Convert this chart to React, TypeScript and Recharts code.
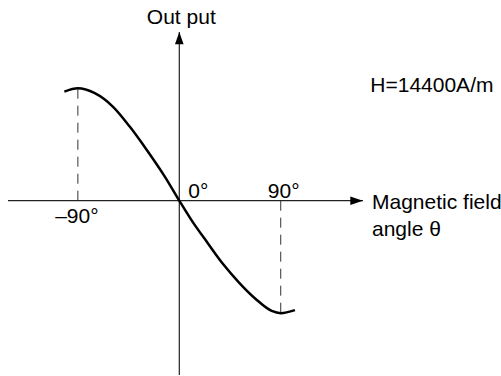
import { LineChart, Line, XAxis, YAxis, ReferenceLine, ReferenceDot } from 'recharts';

// magnetic field angle (deg) and normalised output
const angles = [-102, -90, -75, -59, -44, -29, -13, 0, 10.5, 25, 39, 53, 68, 82, 90, 102.6];
const output = [0.97, 1.0, 0.956, 0.837, 0.659, 0.453, 0.216, 0, -0.168, -0.374, -0.566, -0.728, -0.876, -0.98, -1.0, -0.973];

const markAngles = [-90, 90];
const markLabels = ['–90°', '90°'];
const axisLabel = ['Magnetic field', 'angle θ'];
const outLabel = 'Out put';
const fieldNote = 'H=14400A/m';

const data = angles.map((a, i) => ({ angle: a, output: output[i] }));
const peakAt = (a: number) => output[angles.indexOf(a)];

const font = { fontFamily: '"Liberation Sans", Arial, sans-serif', fontSize: 21, fill: '#000' };

const label = (text: string, dx: number, dy: number, anchor: 'start' | 'middle' | 'end' = 'start') =>
  (p: any) => (
    <text x={p.cx + dx} y={p.cy + dy} textAnchor={anchor} style={font}>
      {text}
    </text>
  );

export default function App() {
  return (
    <div style={{ position: 'absolute', left: 0, top: 0, background: '#fff' }}>
      <LineChart width={501} height={376} data={data} margin={{ top: 32, right: 138, bottom: 1, left: 8 }}>
        <XAxis type="number" dataKey="angle" domain={[-152, 163]} allowDataOverflow hide />
        <YAxis type="number" domain={[-1.55, 1.5]} allowDataOverflow hide />
        <ReferenceLine y={0} stroke="#222" strokeWidth={1.2} />
        <ReferenceLine x={0} stroke="#222" strokeWidth={1.2} />
        {markAngles.map((a) => (
          <ReferenceLine
            key={a}
            segment={[{ x: a, y: 0 }, { x: a, y: peakAt(a) }]}
            stroke="#333"
            strokeWidth={1}
            strokeDasharray="10 7"
          />
        ))}
        <Line
          type="monotone"
          dataKey="output"
          stroke="#000"
          strokeWidth={2.5}
          dot={false}
          isAnimationActive={false}
        />
        <ReferenceDot
          x={163}
          y={0}
          r={0}
          shape={(p: any) => (
            <path d={`M${p.cx},${p.cy} L${p.cx - 12.7},${p.cy - 4.2} L${p.cx - 12.7},${p.cy + 4.2} Z`} fill="#000" />
          )}
        />
        <ReferenceDot
          x={0}
          y={1.5}
          r={0}
          shape={(p: any) => (
            <path d={`M${p.cx},${p.cy} L${p.cx - 4.3},${p.cy + 12.3} L${p.cx + 4.3},${p.cy + 12.3} Z`} fill="#000" />
          )}
        />
        <ReferenceDot x={0} y={1.5} r={0} shape={label(outLabel, 2, -8, 'middle')} />
        <ReferenceDot x={163} y={0} r={0} shape={label(axisLabel[0], 9, 8)} />
        <ReferenceDot x={163} y={0} r={0} shape={label(axisLabel[1], 9, 35)} />
        <ReferenceDot x={163} y={0} r={0} shape={label(fieldNote, 7.3, -109)} />
        <ReferenceDot x={0} y={0} r={0} shape={label('0°', 9, -3)} />
        <ReferenceDot x={markAngles[0]} y={0} r={0} shape={label(markLabels[0], -1, 22, 'middle')} />
        <ReferenceDot x={markAngles[1]} y={0} r={0} shape={label(markLabels[1], 3, -3, 'middle')} />
      </LineChart>
    </div>
  );
}
